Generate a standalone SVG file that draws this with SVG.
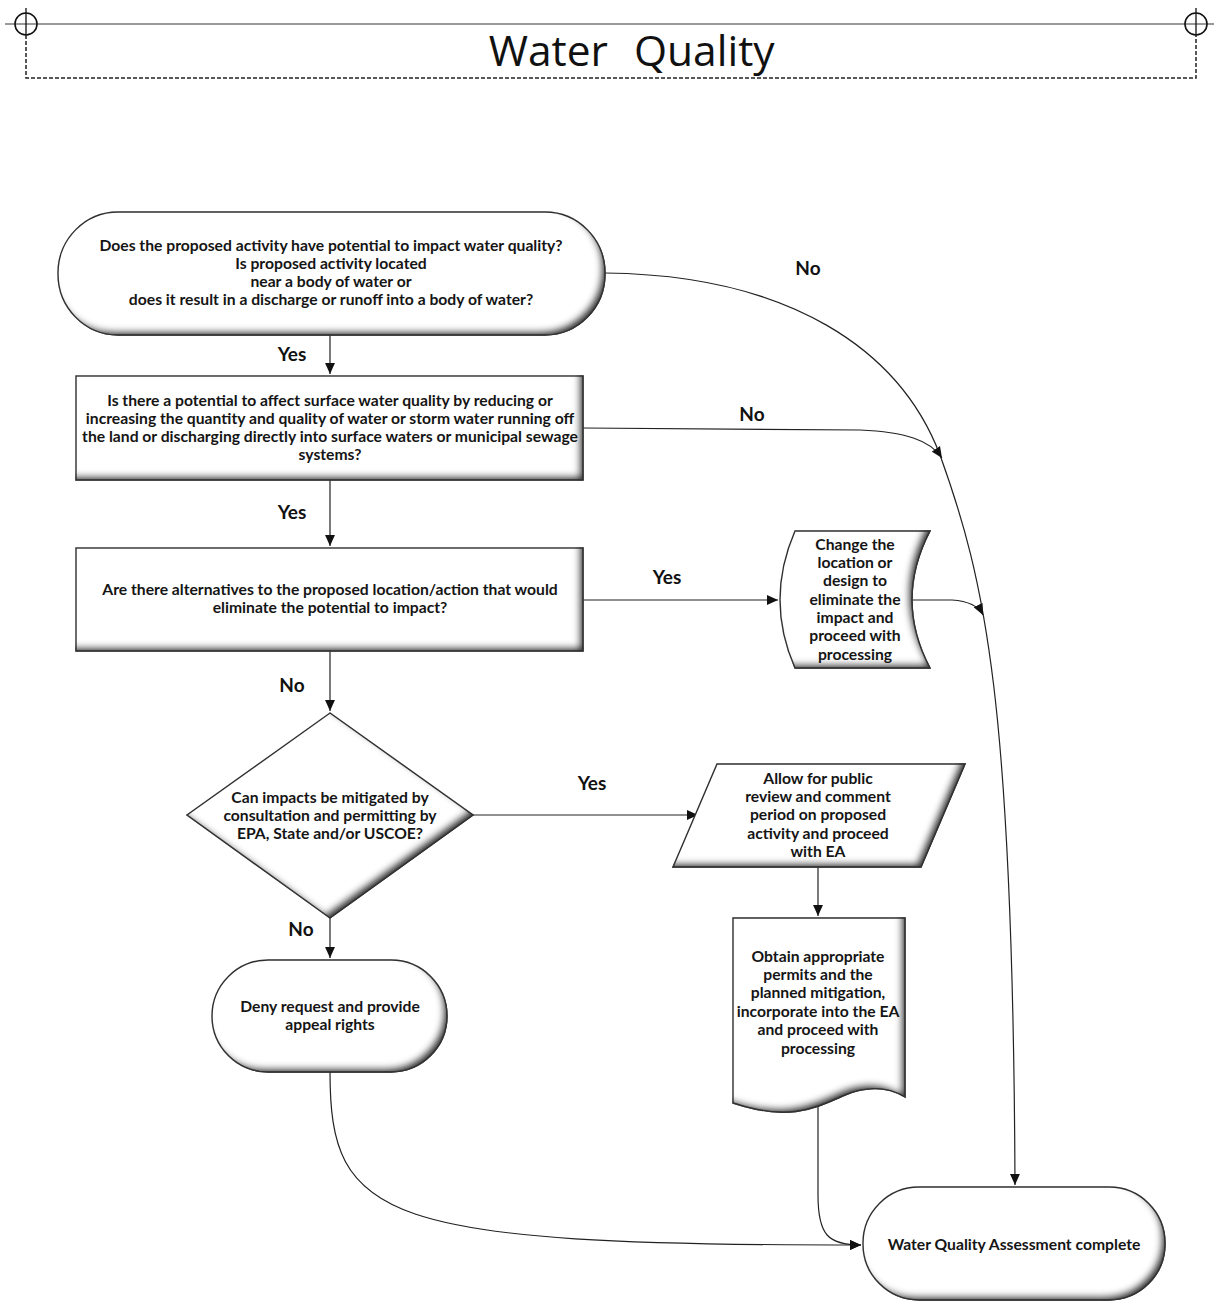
<svg xmlns="http://www.w3.org/2000/svg" width="1218" height="1303" viewBox="0 0 1218 1303">
<style>
.shape{fill:#fff;stroke:#333;stroke-width:1.4;filter:url(#bevel)}
.t{font-family:Lato,"Liberation Sans",sans-serif;font-weight:bold;font-size:15.7px;fill:#151515;text-anchor:middle}
.lbl{font-family:Lato,"Liberation Sans",sans-serif;font-weight:bold;font-size:19px;fill:#111;text-anchor:middle}
.c{fill:none;stroke:#222;stroke-width:1.2}
.title{font-family:"Open Sans","DejaVu Sans",sans-serif;font-size:42.5px;fill:#111}
</style>
<defs>
<filter id="bevel" x="-5%" y="-5%" width="112%" height="115%">
<feGaussianBlur in="SourceAlpha" stdDeviation="3" result="b"/>
<feOffset in="b" dx="-5" dy="-5" result="o"/>
<feComposite in="SourceAlpha" in2="o" operator="out" result="edge"/>
<feFlood flood-color="#333"/>
<feComposite in2="edge" operator="in" result="shade"/>
<feMerge><feMergeNode in="SourceGraphic"/><feMergeNode in="shade"/></feMerge>
</filter>
<marker id="ah" viewBox="0 0 10 10" refX="10" refY="5" markerWidth="11" markerHeight="11" markerUnits="userSpaceOnUse" orient="auto">
<path d="M0,0.5 L10,5 L0,9.5 Z" fill="#111"/>
</marker>
</defs>
<rect width="1218" height="1303" fill="#fff"/>

<g id="title">
<line x1="5" y1="24" x2="1214" y2="24" stroke="#777" stroke-width="1.5"/>
<circle cx="26" cy="24" r="11" fill="none" stroke="#111" stroke-width="1.6"/>
<line x1="26" y1="8" x2="26" y2="35" stroke="#111" stroke-width="1.3"/>
<circle cx="1196" cy="24" r="11" fill="none" stroke="#111" stroke-width="1.6"/>
<line x1="1196" y1="8" x2="1196" y2="35" stroke="#111" stroke-width="1.3"/>
<path d="M26,35 L26,78 L1196,78 L1196,35" fill="none" stroke="#222" stroke-width="1.5" stroke-dasharray="4,2"/>
<text class="title" x="608" y="66" text-anchor="end">Water</text>
<text class="title" x="634" y="66">Quality</text>
</g>

<g id="connectors">
<path class="c" d="M330,335 L330,374" marker-end="url(#ah)"/>
<path class="c" d="M330,480 L330,546" marker-end="url(#ah)"/>
<path class="c" d="M330,651 L330,711" marker-end="url(#ah)"/>
<path class="c" d="M330,918 L330,958" marker-end="url(#ah)"/>
<path class="c" d="M583,600 L778,600" marker-end="url(#ah)"/>
<path class="c" d="M473,815 L698,815" marker-end="url(#ah)"/>
<path class="c" d="M818,867 L818,916" marker-end="url(#ah)"/>
<path class="c" d="M605,273 C790,275 900,350 940,455 C985,580 1013,700 1015,1185" marker-end="url(#ah)"/>
<path class="c" d="M583,428 L860,430 C905,432 930,440 942,458" marker-end="url(#ah)"/>
<path class="c" d="M912,600 L952,600 C968,601 978,605 983,615" marker-end="url(#ah)"/>
<path class="c" d="M330,1072 C330,1220 380,1245 861,1245" marker-end="url(#ah)"/>
<path class="c" d="M818,1104 L818,1195 C818,1235 828,1245 861,1245" marker-end="url(#ah)"/>
<text class="lbl" x="808" y="275">No</text>
<text class="lbl" x="752" y="421">No</text>
<text class="lbl" x="292" y="361">Yes</text>
<text class="lbl" x="292" y="519">Yes</text>
<text class="lbl" x="667" y="584">Yes</text>
<text class="lbl" x="292" y="692">No</text>
<text class="lbl" x="592" y="790">Yes</text>
<text class="lbl" x="301" y="936">No</text>
</g>

<g id="n1">
<rect class="shape" x="58" y="212" width="547" height="123" rx="60" ry="61"/>
<text class="t" x="331" y="251">Does the proposed activity have potential to impact water quality?</text>
<text class="t" x="331" y="269">Is proposed activity located</text>
<text class="t" x="331" y="287">near a body of water or</text>
<text class="t" x="331" y="305">does it result in a discharge or runoff into a body of water?</text>
</g>

<g id="n2">
<rect class="shape" x="76" y="376" width="507" height="104"/>
<text class="t" x="330" y="406">Is there a potential to affect surface water quality by reducing or</text>
<text class="t" x="330" y="424">increasing the quantity and quality of water or storm water running off</text>
<text class="t" x="330" y="442">the land or discharging directly into surface waters or municipal sewage</text>
<text class="t" x="330" y="460">systems?</text>
</g>

<g id="n3">
<rect class="shape" x="76" y="548" width="507" height="103"/>
<text class="t" x="330" y="595">Are there alternatives to the proposed location/action that would</text>
<text class="t" x="330" y="613">eliminate the potential to impact?</text>
</g>

<g id="change">
<path class="shape" d="M795,531 L930,531 Q894,600 930,668 L795,668 Q765,600 795,531 Z"/>
<text class="t" x="855" y="550">Change the</text>
<text class="t" x="855" y="568">location or</text>
<text class="t" x="855" y="586">design to</text>
<text class="t" x="855" y="605">eliminate the</text>
<text class="t" x="855" y="623">impact and</text>
<text class="t" x="855" y="641">proceed with</text>
<text class="t" x="855" y="660">processing</text>
</g>

<g id="decision">
<polygon class="shape" points="330,713 473,815 330,918 187,815"/>
<text class="t" x="330" y="803">Can impacts be mitigated by</text>
<text class="t" x="330" y="821">consultation and permitting by</text>
<text class="t" x="330" y="839">EPA, State and/or USCOE?</text>
</g>

<g id="review">
<polygon class="shape" points="717,764 965,764 921,867 673,867"/>
<text class="t" x="818" y="784">Allow for public</text>
<text class="t" x="818" y="802">review and comment</text>
<text class="t" x="818" y="820">period on proposed</text>
<text class="t" x="818" y="839">activity and proceed</text>
<text class="t" x="818" y="857">with EA</text>
</g>

<g id="permits">
<path class="shape" d="M733,918 L905,918 L905,1097 C890,1088 870,1085 845,1095 C815,1108 790,1122 733,1103 Z"/>
<text class="t" x="818" y="962">Obtain appropriate</text>
<text class="t" x="818" y="980">permits and the</text>
<text class="t" x="818" y="998">planned mitigation,</text>
<text class="t" x="818" y="1017">incorporate into the EA</text>
<text class="t" x="818" y="1035">and proceed with</text>
<text class="t" x="818" y="1054">processing</text>
</g>

<g id="deny">
<rect class="shape" x="212" y="960" width="235" height="112" rx="56" ry="56"/>
<text class="t" x="330" y="1012">Deny request and provide</text>
<text class="t" x="330" y="1030">appeal rights</text>
</g>

<g id="complete">
<rect class="shape" x="863" y="1187" width="302" height="113" rx="56" ry="56"/>
<text class="t" x="1014" y="1250">Water Quality Assessment complete</text>
</g>
</svg>
